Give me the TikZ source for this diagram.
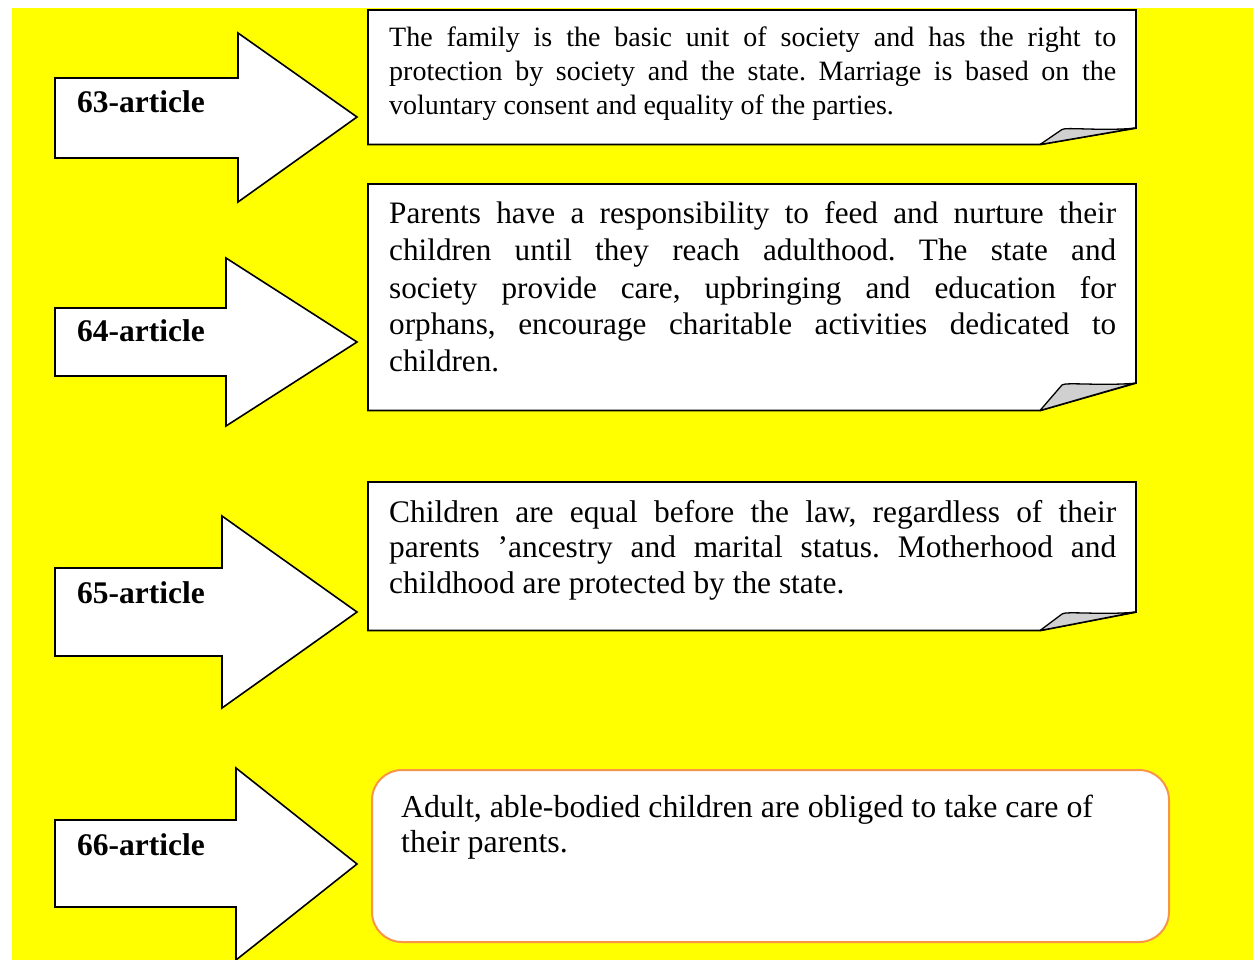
\documentclass[tikz,border=0pt]{standalone}
\usepackage{fontspec}
\setmainfont{Liberation Serif}
\frenchspacing
\definecolor{bgyellow}{RGB}{255,255,0}
\definecolor{flapgray}{RGB}{208,208,208}
\definecolor{boxorange}{RGB}{247,150,70}
\tikzset{
  arrowshape/.style={draw=black, fill=white, line width=1.6pt, line join=miter},
  notebox/.style={draw=black, fill=white, line width=1.9pt, line join=miter},
  flap/.style={draw=black, fill=flapgray, line width=1.3pt, line join=round},
  label/.style={anchor=base west, inner sep=0pt, font=\fontsize{31.5}{36}\selectfont\bfseries},
  bodytext/.style={anchor=base west, inner sep=0pt},
}
\begin{document}
\begin{tikzpicture}[x=1pt,y=-1pt]
\useasboundingbox (0,0) rectangle (1253,960);
\fill[white] (0,0) rectangle (1253,960);
\fill[bgyellow] (12,8) rectangle (1253,960);

% arrows
\draw[arrowshape] (55,78) -- (238,78) -- (238,33) -- (357,117) -- (238,202) -- (238,158) -- (55,158) -- cycle;
\draw[arrowshape] (55,308) -- (226,308) -- (226,258) -- (357,342) -- (226,426) -- (226,376) -- (55,376) -- cycle;
\draw[arrowshape] (55,568) -- (222,568) -- (222,516) -- (357,612) -- (222,708) -- (222,656) -- (55,656) -- cycle;
\draw[arrowshape] (55,820) -- (236,820) -- (236,768) -- (357,864) -- (236,960) -- (236,907) -- (55,907) -- cycle;

\node[label] (a63) at (77,113) {63-article};
\node[label] (a64) at (77,341) {64-article};
\node[label] (a65) at (77,603) {65-article};
\node[label] (a66) at (77,855) {66-article};

% box 1
\draw[notebox] (368,10) -- (1136,10) -- (1136,128) -- (1040,144.5) -- (368,144.5) -- cycle;
\draw[flap] (1040,144.5) -- (1062,129.5) .. controls (1065,127) and (1100,131) .. (1134,128.3) -- cycle;
\node[bodytext] (t63) at (389,47) {\begin{minipage}[t]{727pt}\fontsize{28}{34}\selectfont
The family is the basic unit of society and has the right to\linebreak
protection by society and the state. Marriage is based on the\linebreak
voluntary consent and equality of the parties.\end{minipage}};

% box 2
\draw[notebox] (368,184) -- (1136,184) -- (1136,383) -- (1040,410.5) -- (368,410.5) -- cycle;
\draw[flap] (1040,410.5) -- (1062,385) .. controls (1065,382) and (1100,386) .. (1134,383.3) -- cycle;
\node[bodytext] (t64) at (389,224) {\begin{minipage}[t]{727pt}\fontsize{31.2}{37}\selectfont
Parents have a responsibility to feed and nurture their\linebreak
children until they reach adulthood. The state and\linebreak
society provide care, upbringing and education for\linebreak
orphans, encourage charitable activities dedicated to\linebreak
children.\end{minipage}};

% box 3
\draw[notebox] (368,482) -- (1136,482) -- (1136,612) -- (1040,630.5) -- (368,630.5) -- cycle;
\draw[flap] (1040,630.5) -- (1062,614) .. controls (1065,611) and (1100,615) .. (1134,612.3) -- cycle;
\node[bodytext] (t65) at (389,522) {\begin{minipage}[t]{727pt}\fontsize{31.4}{35.5}\selectfont
Children are equal before the law, regardless of their\linebreak
parents ’ancestry and marital status. Motherhood and\linebreak
childhood are protected by the state.\end{minipage}};

% box 4
\draw[draw=boxorange, fill=white, line width=2pt, rounded corners=30pt] (372,770) rectangle (1169,942);
\node[bodytext] (t66) at (401,817) {\begin{minipage}[t]{750pt}\raggedright\fontsize{31.9}{35}\selectfont
Adult, able-bodied children are obliged to take care of\\
their parents.\end{minipage}};
\end{tikzpicture}
\end{document}
